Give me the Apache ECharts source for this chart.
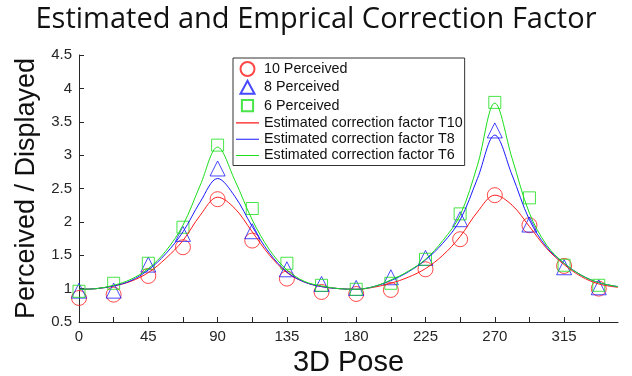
<!DOCTYPE html>
<html><head><meta charset="utf-8">
<script src="https://cdn.jsdelivr.net/npm/echarts@6/dist/echarts.min.js"></script>
<style>html,body{margin:0;padding:0;background:#fff}#c{width:632px;height:376px}</style>
</head><body><div id="c"></div>
<script>
const titleText = 'Estimated and Emprical Correction Factor';
const xTitle = '3D Pose';
const yTitle = 'Perceived / Displayed';
const xTickValues = [0,22.5,45,67.5,90,112.5,135,157.5,180,202.5,225,247.5,270,292.5,315,337.5];
const xLabelValues = [0,45,90,135,180,225,270,315];

const poses = [0,22.5,45,67.5,90,112.5,135,157.5,180,202.5,225,247.5,270,292.5,315,337.5];
const perceived10 = [0.86,0.91,1.19,1.62,2.34,1.72,1.15,0.95,0.92,0.98,1.29,1.74,2.40,1.95,1.34,1.00];
const perceived8  = [0.97,0.97,1.36,1.82,2.80,1.86,1.29,1.07,1.01,1.17,1.46,2.04,3.37,1.96,1.32,1.02];
const perceived6  = [0.96,1.08,1.38,1.92,3.15,2.20,1.38,1.05,0.99,1.08,1.44,2.12,3.79,2.36,1.35,1.05];

const curveX = [0,11.25,22.5,33.75,45,56.25,67.5,78.75,90,101.25,112.5,123.75,135,146.25,157.5,168.75,180,191.25,202.5,213.75,225,236.25,247.5,258.75,270,281.25,292.5,303.75,315,326.25,337.5,350];
const estT10 = [0.99,1.00,1.04,1.11,1.24,1.45,1.72,2.10,2.37,2.20,1.85,1.50,1.24,1.10,1.03,1.00,0.99,1.02,1.08,1.17,1.30,1.50,1.78,2.15,2.40,2.25,1.93,1.60,1.36,1.18,1.07,1.02];
const estT8  = [0.99,1.00,1.04,1.12,1.28,1.52,1.85,2.30,2.65,2.38,1.93,1.53,1.25,1.10,1.03,1.00,0.99,1.03,1.12,1.25,1.43,1.68,2.03,2.65,3.30,2.70,2.03,1.62,1.38,1.20,1.09,1.03];
const estT6  = [0.99,1.00,1.05,1.14,1.30,1.56,1.95,2.55,3.12,2.62,2.03,1.58,1.28,1.11,1.04,1.00,0.99,1.03,1.13,1.26,1.44,1.72,2.10,2.85,3.78,2.95,2.13,1.65,1.38,1.20,1.09,1.03];

const seriesNames = ['10 Perceived','8 Perceived','6 Perceived','Estimated correction factor T10','Estimated correction factor T8','Estimated correction factor T6'];
const RED = '#ff1a1a', BLUE = '#1a1aff', GREEN = '#1adf1a';
const ICON_CIRCLE = 'circle';
const ICON_TRI = 'path://M0,0 L0.01,0 Z M7.5,0.5 L14.5,13.5 L0.5,13.5 Z M15,14 L14.99,14 Z';
const ICON_SQ = 'path://M0,0 L0.01,0 Z M1.5,1.5 H13.5 V13.5 H1.5 Z M15,15 L14.99,15 Z';
const ICON_LINE = 'path://M0,0 L0.01,0 Z M0,6.45 H23 V7.55 H0 Z M23,14 L22.99,14 Z';

function pairs(xs, ys){ return xs.map((x,i)=>[x, ys[i]]); }
function scatter(name, ys, sym, size, col){
  return {name, type:'scatter', data: pairs(poses, ys), symbol: sym, symbolSize: size,
    itemStyle:{color:'rgba(0,0,0,0)', borderColor: col, borderWidth: 1},
    emphasis:{disabled:true}, z: 2};
}
function line(name, ys, col){
  return {name, type:'line', data: pairs(curveX, ys), symbol:'none', smooth: 0.35,
    lineStyle:{color: col, width: 1}, itemStyle:{color: col},
    emphasis:{disabled:true}, z: 3};
}

const chart = echarts.init(document.getElementById('c'), null, {renderer:'canvas'});
chart.setOption({
  animation: false,
  backgroundColor: '#fff',
  title: {text: titleText, left: 'center', top: 0,
    textStyle:{fontFamily:'Open Sans', fontSize: 29, fontWeight:'normal', color:'#111'}},
  grid: {left: 79, right: 14, top: 55, bottom: 54, containLabel: false, outerBoundsMode: 'none'},
  legend: {
    orient:'vertical', left: 233, top: 58,
    data: [
      {name: seriesNames[0], icon: ICON_CIRCLE},
      {name: seriesNames[1], icon: ICON_TRI},
      {name: seriesNames[2], icon: ICON_SQ},
      {name: seriesNames[3], icon: ICON_LINE, itemStyle:{color: RED}},
      {name: seriesNames[4], icon: ICON_LINE, itemStyle:{color: BLUE}},
      {name: seriesNames[5], icon: ICON_LINE, itemStyle:{color: GREEN}}
    ],
    symbolKeepAspect: true,
    backgroundColor:'#fff', borderColor:'#333', borderWidth: 1,
    padding:[3,2,3,3], itemWidth: 23, itemHeight: 14, itemGap: 2.3,
    textStyle:{fontFamily:'Liberation Sans', fontSize: 14.3, lineHeight: 14, color:'#111'}
  },
  xAxis: {
    type:'value', min: 0, max: 350,
    name: xTitle, nameLocation:'middle', nameGap: 24,
    nameTextStyle:{fontFamily:'Liberation Sans', fontSize: 29, color:'#111'},
    axisLine:{onZero:false, lineStyle:{color:'#262626', width:1}},
    axisTick:{inside:true, length:5, customValues: xTickValues, lineStyle:{color:'#262626'}},
    axisLabel:{customValues: xLabelValues, fontFamily:'Liberation Sans', fontSize: 15, color:'#262626', margin: 7},
    splitLine:{show:false}
  },
  yAxis: {
    type:'value', min: 0.5, max: 4.5, interval: 0.5,
    name: yTitle, nameLocation:'middle', nameGap: 33, nameRotate: 90,
    nameTextStyle:{fontFamily:'Liberation Sans', fontSize: 27, color:'#111'},
    axisLine:{show:true, onZero:false, lineStyle:{color:'#262626', width:1}},
    axisTick:{show:true, inside:true, length:5, lineStyle:{color:'#262626'}},
    axisLabel:{fontFamily:'Liberation Sans', fontSize: 15, color:'#262626', margin: 7},
    splitLine:{show:false}
  },
  series: [
    scatter(seriesNames[0], perceived10, 'circle', 15, RED),
    scatter(seriesNames[1], perceived8, 'triangle', 15, BLUE),
    scatter(seriesNames[2], perceived6, 'rect', 12, GREEN),
    line(seriesNames[3], estT10, RED),
    line(seriesNames[4], estT8, BLUE),
    line(seriesNames[5], estT6, GREEN)
  ]
});
</script></body></html>
